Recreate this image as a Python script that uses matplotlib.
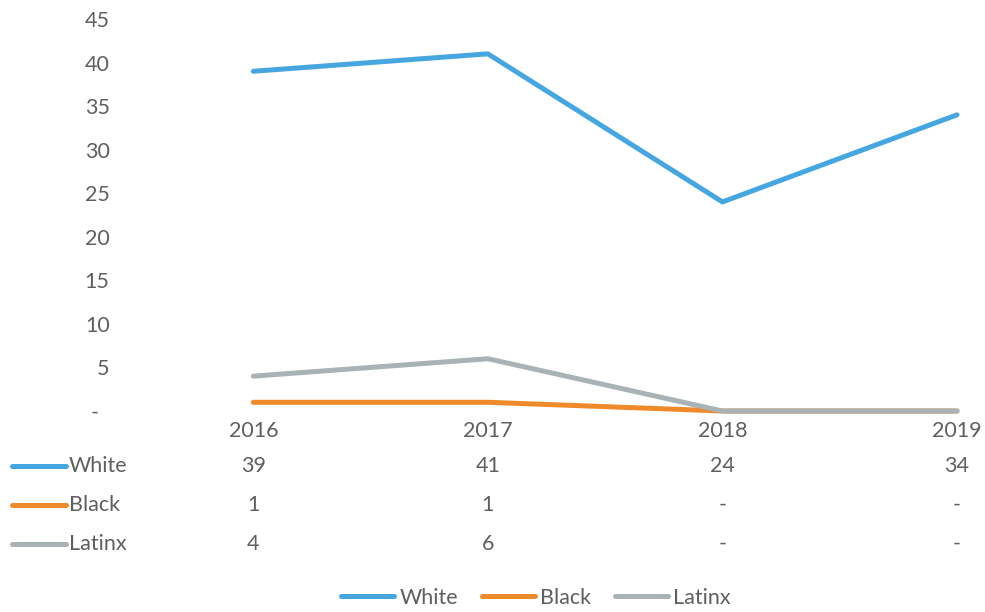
import matplotlib.pyplot as plt
from matplotlib.lines import Line2D
from matplotlib.transforms import blended_transform_factory

plt.rcParams["font.family"] = ["Lato", "DejaVu Sans"]

years = ["2016", "2017", "2018", "2019"]
white = [39, 41, 24, 34]
black = [1, 1, 0, 0]
latinx = [4, 6, 0, 0]

series = [
    ("White", white, "#45a6e0"),
    ("Black", black, "#ef8a2b"),
    ("Latinx", latinx, "#a9b2b4"),
]
yticks = [0, 5, 10, 15, 20, 25, 30, 35, 40, 45]

TEXT = "#5f5f5f"
FS = 15.5
W, H = 985, 612

fig = plt.figure(figsize=(W / 100, H / 100), dpi=100)
ax = fig.add_axes([136 / W, 1 - 411 / H, (W - 136) / W, (411 - 19) / H])

xs = range(len(years))
# Latinx drawn last so it sits on top where the lines meet at zero
for name, vals, col in series:
    ax.plot(xs, vals, color=col, lw=3.6, solid_capstyle="round", label=name,
            clip_on=False)

ax.set_xlim(-0.5, (W - 253) / 234.67)
ax.set_ylim(0, 45)
ax.set_yticks(yticks)
ax.set_yticklabels(["-\u2002" if v == 0 else str(v) for v in yticks])
ax.set_xticks(list(xs))
ax.set_xticklabels(years)
ax.tick_params(length=0, labelsize=FS, labelcolor=TEXT)
ax.tick_params(axis="y", pad=19)
ax.tick_params(axis="x", pad=7)
for s in ax.spines.values():
    s.set_visible(False)

# data table under the category axis
tr = blended_transform_factory(ax.transData, fig.transFigure)
row_y = [466, 505, 544]
for (name, vals, col), py in zip(series, row_y):
    yf = 1 - py / H
    fig.add_artist(Line2D([12 / W, 66 / W], [yf, yf], color=col, lw=3.6,
                          solid_capstyle="round", transform=fig.transFigure))
    fig.text(69 / W, yf, name, ha="left", va="center", fontsize=FS, color=TEXT)
    for x, v in zip(xs, vals):
        ax.text(x, yf, str(v) if v else "-", transform=tr, ha="center",
                va="center", fontsize=FS, color=TEXT, clip_on=False)

handles = [Line2D([], [], color=col, lw=3.6, solid_capstyle="round")
           for _, _, col in series]
fig.legend(handles, [n for n, _, _ in series], loc="center",
           bbox_to_anchor=(536 / W, 1 - 598 / H), ncol=3, frameon=False,
           fontsize=FS, labelcolor=TEXT, handlelength=2.45, handletextpad=0.25,
           columnspacing=1.1)

fig.savefig("out.png", dpi=100)
